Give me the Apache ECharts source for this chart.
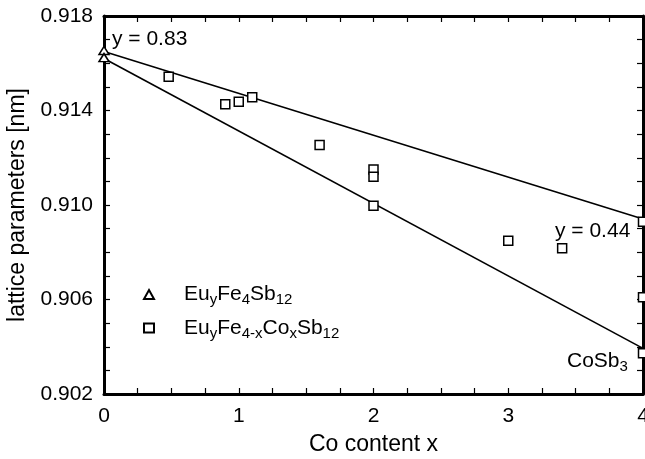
<!DOCTYPE html>
<html>
<head>
<meta charset="utf-8">
<script src="https://cdn.jsdelivr.net/npm/echarts@6/dist/echarts.min.js"></script>
<style>
html,body{margin:0;padding:0;background:#fff;}
#chart{width:645px;height:459px;}
</style>
</head>
<body>
<div id="chart"></div>
<script>
// ---- data ----
var triX = [0, 0];
var triY = [0.91654, 0.91624];
var sqX = [0.48, 0.9, 1.0, 1.1, 1.6, 2.0, 2.0, 2.0, 3.0, 3.4, 4.0, 4.0, 4.0];
var sqY = [0.91543, 0.91426, 0.91437, 0.91456, 0.91254, 0.91150, 0.91120, 0.90997, 0.90849, 0.90817, 0.90929, 0.90609, 0.90372];
var fitUpperX = [0, 4];
var fitUpperY = [0.9165, 0.90941];
var fitLowerX = [0, 4];
var fitLowerY = [0.9162, 0.90393];
var xTickLabels = [0, 1, 2, 3, 4];
var yTickLabels = [0.902, 0.906, 0.910, 0.914, 0.918];
var seriesNames = ['EuyFe4Sb12', 'EuyFe4-xCoxSb12'];

var FONT = 'Liberation Sans, Arial, Helvetica, sans-serif';
function zip(a, b) { return a.map(function (v, i) { return [v, b[i]]; }); }

var rich = {
  n: { fontSize: 21, fontFamily: FONT, color: '#000', lineHeight: 26 },
  s: { fontSize: 15, fontFamily: FONT, color: '#000', verticalAlign: 'bottom' },
  g: { width: 25 }
};
var legendRich = {
  'EuyFe4Sb12': '{g|}{n|Eu}{s|y}{n|Fe}{s|4}{n|Sb}{s|12}',
  'EuyFe4-xCoxSb12': '{g|}{n|Eu}{s|y}{n|Fe}{s|4-x}{n|Co}{s|x}{n|Sb}{s|12}'
};

var chart = echarts.init(document.getElementById('chart'), null, { renderer: 'canvas' });

var axisLineStyle = { color: '#000', width: 3 };
function xAx(pos, show) {
  return {
    type: 'value', position: pos, min: 0, max: 4, interval: 0.25,
    axisLine: { show: true, onZero: false, lineStyle: axisLineStyle },
    axisTick: { show: true, inside: true, length: 6, lineStyle: { color: '#000', width: 1.2 } },
    splitLine: { show: false },
    axisLabel: show ? {
      show: true, margin: 12, fontSize: 21, fontFamily: FONT, color: '#000',
      formatter: function (v) {
        var r = Math.round(v * 100) / 100;
        return xTickLabels.indexOf(r) >= 0 ? String(r) : '';
      }
    } : { show: false },
    name: show ? 'Co content x' : '',
    nameLocation: 'middle', nameGap: 39,
    nameTextStyle: { fontSize: 23, fontFamily: FONT, color: '#000' }
  };
}
function yAx(pos, show) {
  return {
    type: 'value', position: pos, min: 0.902, max: 0.918, interval: 0.001,
    axisLine: { show: true, onZero: false, lineStyle: axisLineStyle },
    axisTick: { show: true, inside: true, length: 6, lineStyle: { color: '#000', width: 1.2 } },
    splitLine: { show: false },
    axisLabel: show ? {
      show: true, margin: 11, fontSize: 21, fontFamily: FONT, color: '#000',
      formatter: function (v) {
        var r = Math.round(v * 1000) / 1000;
        for (var i = 0; i < yTickLabels.length; i++) {
          if (Math.abs(yTickLabels[i] - r) < 1e-7) return yTickLabels[i].toFixed(3);
        }
        return '';
      }
    } : { show: false },
    name: show ? 'lattice parameters [nm]' : '',
    nameLocation: 'middle', nameGap: 74, nameRotate: 90,
    nameTextStyle: { fontSize: 23, fontFamily: FONT, color: '#000' }
  };
}

var option = {
  animation: false,
  backgroundColor: '#fff',
  grid: { left: 104, right: 2, top: 16, bottom: 65, containLabel: false, outerBoundsMode: 'none' },
  xAxis: [xAx('bottom', true), xAx('top', false)],
  yAxis: [yAx('left', true), yAx('right', false)],
  legend: {
    orient: 'vertical', left: 138, top: 279, itemGap: 10,
    itemWidth: 10, itemHeight: 9,
    data: seriesNames,
    formatter: function (name) { return legendRich[name]; },
    textStyle: { rich: rich }
  },
  series: [
    {
      name: 'fit upper', type: 'line', data: zip(fitUpperX, fitUpperY),
      showSymbol: false, symbol: 'none', lineStyle: { color: '#000', width: 1.6 }, z: 2, silent: true
    },
    {
      name: 'fit lower', type: 'line', data: zip(fitLowerX, fitLowerY),
      showSymbol: false, symbol: 'none', lineStyle: { color: '#000', width: 1.6 }, z: 2, silent: true
    },
    {
      name: seriesNames[0], type: 'scatter', data: zip(triX, triY),
      symbol: 'triangle', symbolSize: [10, 8],
      itemStyle: { color: '#fff', borderColor: '#000', borderWidth: 1.5, opacity: 1 }, z: 3
    },
    {
      name: seriesNames[1], type: 'scatter', data: zip(sqX, sqY),
      symbol: 'rect', symbolSize: 9,
      itemStyle: { color: '#fff', borderColor: '#000', borderWidth: 1.5, opacity: 1 }, z: 3
    }
  ],
  graphic: [
    { type: 'text', left: 112, top: 29, style: { text: 'y = 0.83', font: '21px ' + FONT, fill: '#000' }, z: 10 },
    { type: 'text', left: 555, top: 221, style: { text: 'y = 0.44', font: '21px ' + FONT, fill: '#000' }, z: 10 },
    { type: 'text', left: 567, top: 351, style: { text: '{n|CoSb}{s|3}', rich: rich }, z: 10 }
  ]
};
chart.setOption(option);
</script>
</body>
</html>
